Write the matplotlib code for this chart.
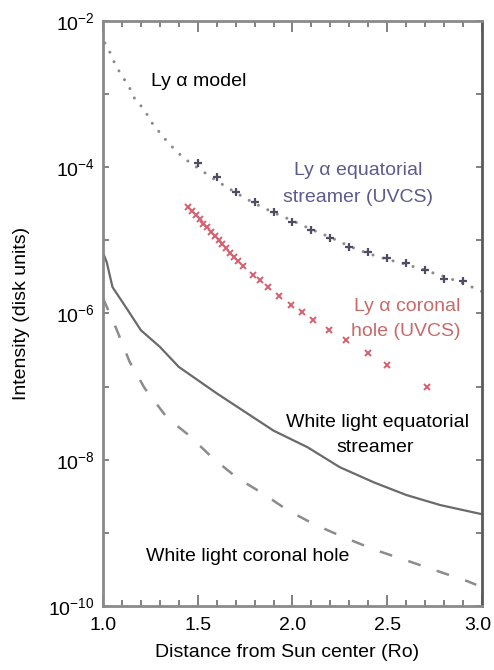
import matplotlib
matplotlib.use('Agg')
import matplotlib.pyplot as plt
import matplotlib.transforms as mtransforms
from matplotlib.ticker import FixedLocator, NullLocator, MultipleLocator

# Ly-alpha model curve (dotted)
model_r = [1.01, 1.04, 1.06, 1.09, 1.12, 1.15, 1.17, 1.21, 1.24, 1.27, 1.31,
           1.34, 1.38, 1.42, 1.46, 1.50, 1.60, 1.70, 1.80, 1.90, 2.00, 2.10,
           2.20, 2.30, 2.40, 2.50, 2.60, 2.70, 2.80, 2.90, 3.00]
model_i = [5.0e-3, 3.6e-3, 2.7e-3, 1.95e-3, 1.48e-3, 1.10e-3, 8.3e-4, 6.5e-4,
           4.9e-4, 3.6e-4, 2.8e-4, 2.2e-4, 1.74e-4, 1.38e-4, 1.15e-4, 9.8e-5,
           6.5e-5, 4.5e-5, 3.2e-5, 2.4e-5, 1.86e-5, 1.41e-5, 1.10e-5, 8.3e-6,
           6.6e-6, 5.5e-6, 4.7e-6, 3.9e-6, 3.2e-6, 2.6e-6, 2.0e-6]

# UVCS Ly-alpha, equatorial streamer
streamer_r = [1.5, 1.6, 1.7, 1.8, 1.9, 2.0, 2.1, 2.2, 2.3, 2.4, 2.5, 2.6, 2.7,
              2.8, 2.9]
streamer_i = [1.15e-4, 7.4e-5, 4.6e-5, 3.3e-5, 2.45e-5, 1.78e-5, 1.38e-5,
              1.07e-5, 8.1e-6, 6.9e-6, 5.8e-6, 4.9e-6, 3.9e-6, 3.0e-6, 2.8e-6]

# UVCS Ly-alpha, coronal hole
hole_r = [1.45, 1.47, 1.49, 1.51, 1.53, 1.55, 1.57, 1.59, 1.61, 1.63, 1.65,
          1.67, 1.69, 1.71, 1.74, 1.79, 1.83, 1.87, 1.93, 1.99, 2.05, 2.11,
          2.19, 2.28, 2.40, 2.50, 2.71]
hole_i = [2.9e-5, 2.5e-5, 2.24e-5, 1.95e-5, 1.70e-5, 1.51e-5, 1.32e-5,
          1.15e-5, 1.02e-5, 8.9e-6, 7.8e-6, 6.8e-6, 6.0e-6, 5.2e-6, 4.4e-6,
          3.4e-6, 2.9e-6, 2.3e-6, 1.74e-6, 1.32e-6, 1.05e-6, 8.1e-7, 5.9e-7,
          4.4e-7, 2.9e-7, 1.95e-7, 9.8e-8]

# white light, equatorial streamer (solid)
wl_str_r = [1.00, 1.02, 1.05, 1.13, 1.20, 1.30, 1.40, 1.60, 1.75, 1.90, 2.08,
            2.25, 2.43, 2.60, 2.78, 3.00]
wl_str_i = [6.8e-6, 5.0e-6, 2.3e-6, 1.12e-6, 5.9e-7, 3.5e-7, 1.86e-7, 8.1e-8,
            4.5e-8, 2.5e-8, 1.48e-8, 7.9e-9, 4.9e-9, 3.3e-9, 2.4e-9, 1.8e-9]

# white light, coronal hole (dashed)
wl_hole_r = [1.00, 1.07, 1.14, 1.22, 1.34, 1.45, 1.58, 1.71, 1.84, 1.98, 2.12,
             2.28, 2.44, 2.59, 2.75, 2.92, 2.97]
wl_hole_i = [1.62e-6, 6.2e-7, 2.2e-7, 9.5e-8, 3.7e-8, 2.2e-8, 1.05e-8, 5.6e-9,
             3.5e-9, 2.0e-9, 1.29e-9, 8.5e-10, 5.8e-10, 4.3e-10, 3.1e-10,
             2.2e-10, 1.95e-10]

y_ticks = [1e-10, 1e-9, 1e-8, 1e-7, 1e-6, 1e-5, 1e-4, 1e-3, 1e-2]
y_labels = ['$10^{-10}$', '', '$10^{-8}$', '', '$10^{-6}$', '', '$10^{-4}$',
            '', '$10^{-2}$']
x_ticks = [1.0, 1.5, 2.0, 2.5, 3.0]
x_labels = ['1.0', '1.5', '2.0', '2.5', '3.0']

plt.rcParams['font.family'] = ['Liberation Sans', 'DejaVu Sans']
plt.rcParams['mathtext.fontset'] = 'custom'
plt.rcParams['mathtext.rm'] = 'Liberation Sans'
plt.rcParams['mathtext.it'] = 'Liberation Sans:italic'
plt.rcParams['mathtext.bf'] = 'Liberation Sans:bold'

fig = plt.figure(figsize=(4.94, 6.70), dpi=100)
ax = fig.add_axes([0.2085, 0.0955, 0.7672, 0.8732])
ax.set_yscale('log')
ax.set_xlim(1.0, 3.0)
ax.set_ylim(1e-10, 1e-2)

ax.plot(model_r, model_i, color='#8a8a8a', lw=2.2,
        linestyle=(0, (0.01, 3.4)), dash_capstyle='round')
ax.plot(streamer_r, streamer_i, '+', color='#4e4e62', ms=5.5, mew=1.6)
ax.plot(hole_r, hole_i, 'x', color='#d8606e', ms=5, mew=1.4)
ax.plot(wl_str_r, wl_str_i, '-', color='#6a6a6a', lw=1.6)
ax.plot(wl_hole_r, wl_hole_i, color='#8c8c8c', lw=1.8,
        linestyle=(0, (5.2, 6.8)))

ax.text(1.503, 1.5e-3, 'Ly α model', fontsize=14, ha='center', va='center')
ax.text(2.345, 9.1e-5, 'Ly α equatorial', fontsize=14, color='#5c5c8c',
        ha='center', va='center')
ax.text(2.345, 3.9e-5, 'streamer (UVCS)', fontsize=14, color='#5c5c8c',
        ha='center', va='center')
ax.text(2.604, 1.23e-6, 'Ly α coronal', fontsize=14, color='#c86a6a',
        ha='center', va='center')
ax.text(2.60, 5.6e-7, 'hole (UVCS)', fontsize=14, color='#c86a6a',
        ha='center', va='center')
ax.text(2.446, 3.2e-8, 'White light equatorial', fontsize=14,
        ha='center', va='center')
ax.text(2.435, 1.48e-8, 'streamer', fontsize=14, ha='center', va='center')
ax.text(1.765, 4.7e-10, 'White light coronal hole', fontsize=14,
        ha='center', va='center')

ax.yaxis.set_major_locator(FixedLocator(y_ticks))
ax.set_yticklabels(y_labels)
ax.yaxis.set_minor_locator(NullLocator())
ax.set_xticks(x_ticks)
ax.set_xticklabels(x_labels)
ax.xaxis.set_minor_locator(MultipleLocator(0.1))

ax.tick_params(which='both', direction='in', top=True, right=True,
               color='#777777', labelsize=14)
ax.tick_params(axis='x', which='major', length=8, width=1.3, pad=8)
ax.tick_params(axis='x', which='minor', length=4, width=1.3)
ax.tick_params(axis='y', which='major', length=4, width=1.3, pad=6)

# pull the last x label in a little so it stays on the canvas
last = ax.get_xticklabels()[-1]
last.set_transform(last.get_transform() +
                   mtransforms.ScaledTranslation(-0.04, 0, fig.dpi_scale_trans))

for side in ['left', 'top', 'bottom']:
    ax.spines[side].set_color('#8a8a8a')
    ax.spines[side].set_linewidth(2.0)
ax.spines['right'].set_color('#5a5a5a')
ax.spines['right'].set_linewidth(2.0)

ax.set_xlabel('Distance from Sun center (Ro)', fontsize=14, va='center')
ax.xaxis.set_label_coords(0.4855, -0.080)
ax.set_ylabel('Intensity (disk units)', fontsize=14, va='center')
ax.yaxis.set_label_coords(-0.214, 0.5)

fig.savefig('out.png', dpi=100)
plt.close(fig)
